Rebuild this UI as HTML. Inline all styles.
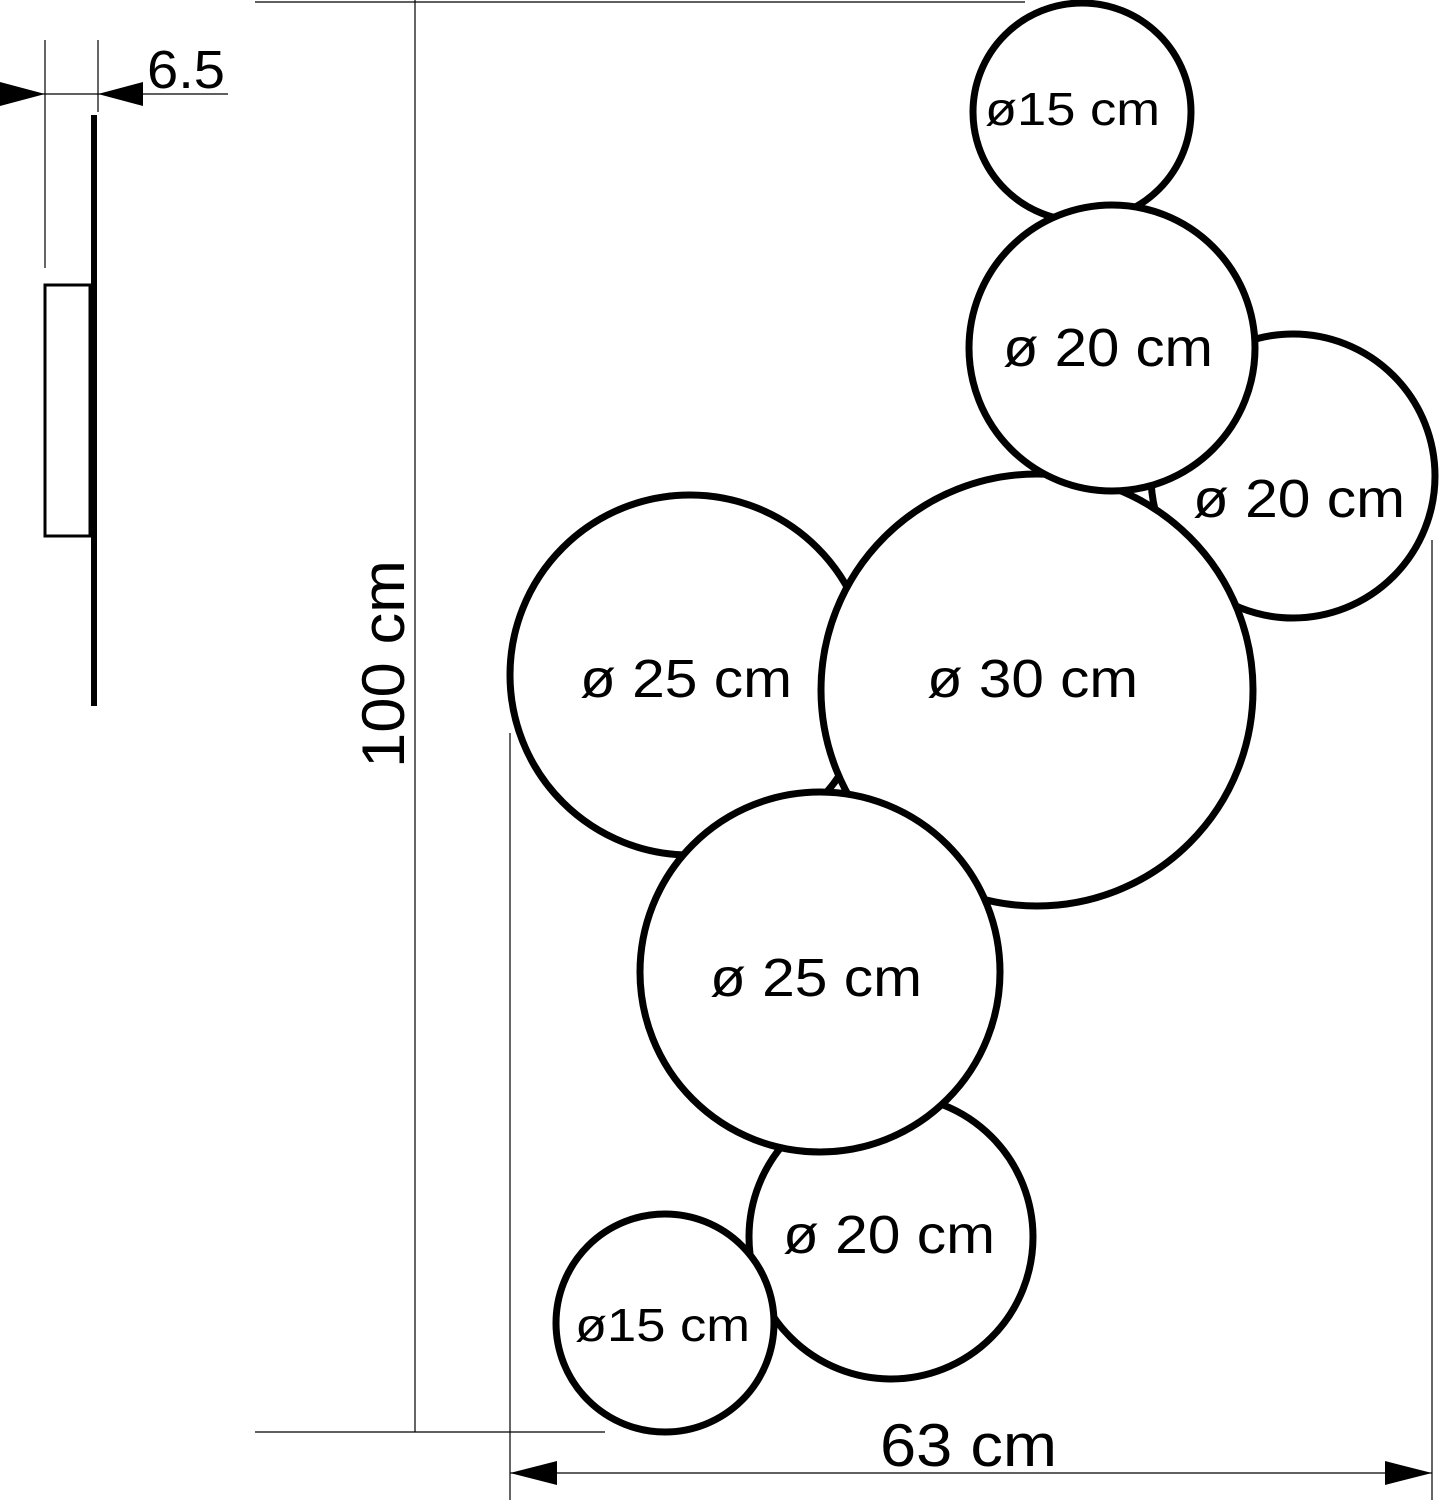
<!DOCTYPE html>
<html><head><style>body{margin:0;background:#fff}</style></head><body>
<svg width="1451" height="1500" xmlns="http://www.w3.org/2000/svg" style="display:block">
<g stroke="#000" fill="none" stroke-width="1.2">
<line x1="45" y1="40" x2="45" y2="268"/>
<line x1="98" y1="40" x2="98" y2="112"/>
<line x1="0" y1="94" x2="228" y2="94"/>
<line x1="255" y1="2" x2="1025" y2="2"/>
<line x1="415" y1="0" x2="415" y2="1432"/>
<line x1="255" y1="1432" x2="605" y2="1432"/>
<line x1="510" y1="733" x2="510" y2="1500"/>
<line x1="1432" y1="540" x2="1432" y2="1500"/>
<line x1="510" y1="1473" x2="1432" y2="1473"/>
</g>
<polygon points="0,82 45,94 0,106"/>
<polygon points="98,94 143,82 143,106"/>
<polygon points="510,1473 557,1461 557,1485"/>
<polygon points="1432,1473 1385,1461 1385,1485"/>
<line x1="94" y1="115" x2="94" y2="706" stroke="#000" stroke-width="6"/>
<rect x="45" y="285" width="45" height="251" fill="none" stroke="#000" stroke-width="3"/>
<g stroke="#000" stroke-width="7" fill="#fff">
<circle cx="690" cy="675" r="180"/>
<circle cx="1293" cy="476" r="142"/>
<circle cx="1037" cy="690" r="216"/>
<circle cx="1082" cy="112" r="109"/>
<circle cx="1112" cy="348" r="143"/>
<circle cx="891" cy="1237" r="142"/>
<circle cx="820" cy="972" r="180"/>
<circle cx="665" cy="1323" r="109"/>
</g>
<g font-family="Liberation Sans, sans-serif" fill="#000" lengthAdjust="spacingAndGlyphs">
<text x="147" y="88" font-size="54" textLength="78" lengthAdjust="spacingAndGlyphs">6.5</text>
<text x="985" y="125" font-size="46" textLength="175" lengthAdjust="spacingAndGlyphs">ø15 cm</text>
<text x="1003" y="366" font-size="54" textLength="210" lengthAdjust="spacingAndGlyphs">ø 20 cm</text>
<text x="1193" y="517" font-size="54" textLength="212" lengthAdjust="spacingAndGlyphs">ø 20 cm</text>
<text x="927" y="697" font-size="54" textLength="211" lengthAdjust="spacingAndGlyphs">ø 30 cm</text>
<text x="580" y="697" font-size="54" textLength="212" lengthAdjust="spacingAndGlyphs">ø 25 cm</text>
<text x="710" y="996" font-size="54" textLength="212" lengthAdjust="spacingAndGlyphs">ø 25 cm</text>
<text x="783" y="1253" font-size="54" textLength="212" lengthAdjust="spacingAndGlyphs">ø 20 cm</text>
<text x="575" y="1341" font-size="46" textLength="175" lengthAdjust="spacingAndGlyphs">ø15 cm</text>
<text x="880" y="1466" font-size="60" textLength="177" lengthAdjust="spacingAndGlyphs">63 cm</text>
<text transform="translate(404,768) rotate(-90)" font-size="60" textLength="208" lengthAdjust="spacingAndGlyphs">100 cm</text>
</g>
</svg>
</body></html>
